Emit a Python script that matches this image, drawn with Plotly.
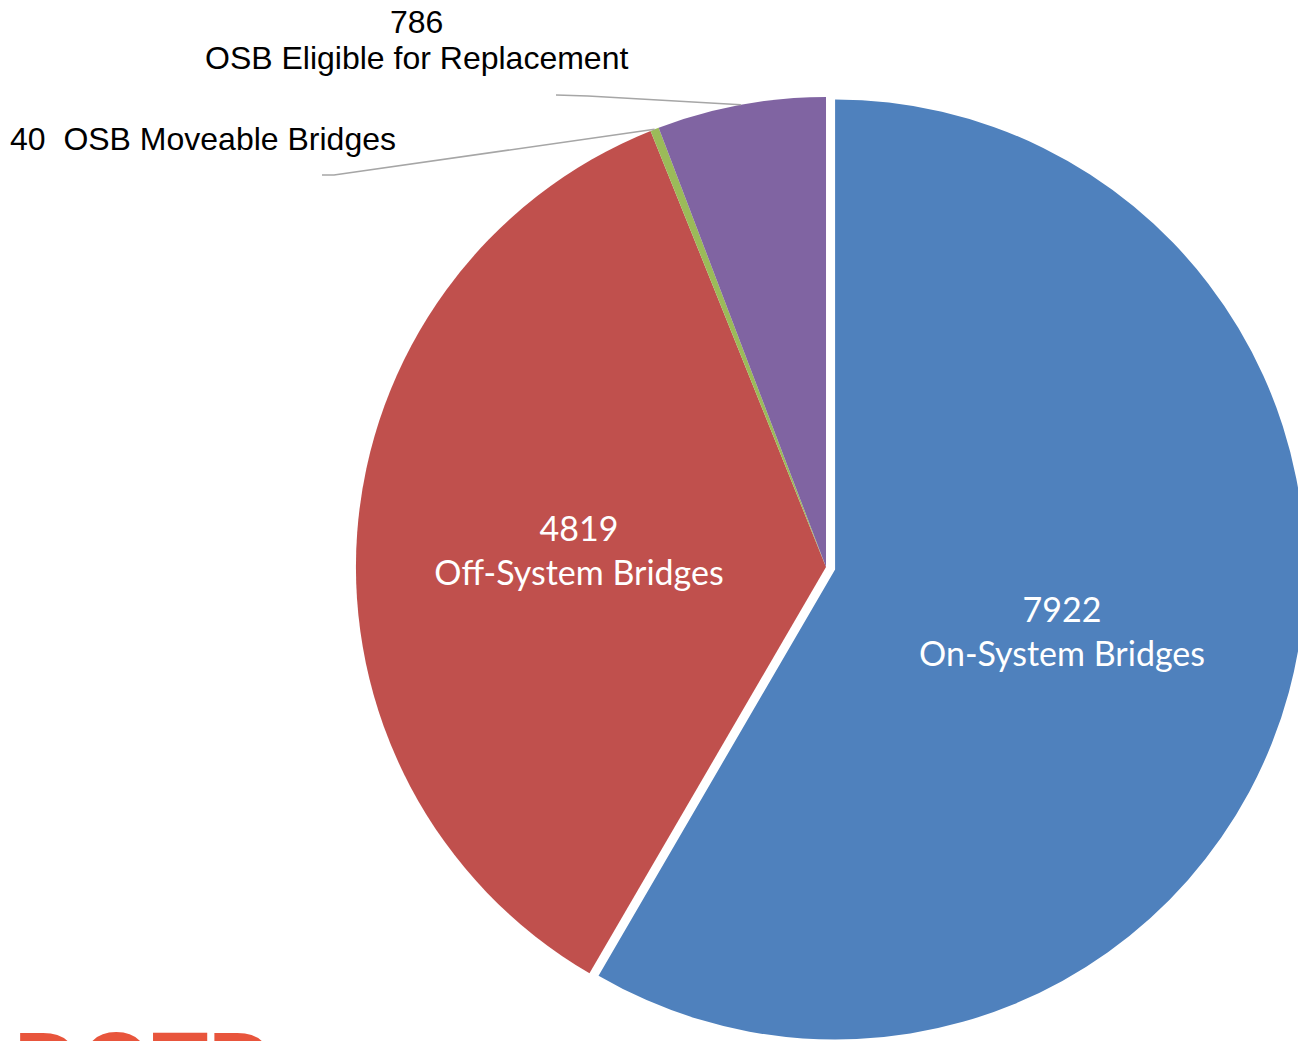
import math
import plotly.graph_objects as go

# ---- data ----
categories = ["On-System Bridges", "Off-System Bridges", "OSB Moveable Bridges", "OSB Eligible for Replacement"]
values = [7922, 4819, 40, 786]
colors = ["#4F81BD", "#C0504D", "#9BBB59", "#8064A2"]
pulls = [0.02, 0, 0, 0]

W, H = 1306, 1041
OFF = 8  # page body margin in the browser
dom_x = [0.2527, 1.0]
dom_y = [0.0024, 0.9236]

inside_text = [f"{v}<br>{c}" for v, c in zip(values, categories)]
positions = ["inside", "inside", "none", "none"]

fig = go.Figure(go.Pie(
    labels=categories, values=values, sort=False, direction="clockwise", rotation=0,
    marker=dict(colors=colors, line=dict(width=0)),
    pull=pulls, text=inside_text, textinfo="text", textposition=positions,
    insidetextorientation="horizontal",
    insidetextfont=dict(family="Lato", size=34, color="white"),
    hoverinfo="label+value",
    domain=dict(x=dom_x, y=dom_y),
))

# pie geometry (same as plotly's layout rule), in figure pixels
boxw = W * (dom_x[1] - dom_x[0])
boxh = H * (dom_y[1] - dom_y[0])
r = min(boxw, boxh) / (2 + 2 * max(pulls))
cx = W * (dom_x[0] + dom_x[1]) / 2
cy = H * (1 - dom_y[0]) - boxh / 2
total = sum(values)

def mid_point(i):
    start = sum(values[:i]) / total * 360
    mid = start + values[i] / total * 360 / 2
    a = math.radians(mid)
    return cx + r * math.sin(a), cy - r * math.cos(a)

# convert window pixel -> paper coordinate
def px(x): return (x - OFF) / W
def py(y): return 1 - (y - OFF) / H
def fx(x): return x / W          # figure pixel -> paper
def fy(y): return 1 - y / H

line_style = dict(color="#A6A6A6", width=1.6)
shapes = []
gx, gy = mid_point(2)
shapes.append(dict(type="path", xref="paper", yref="paper",
                   path=f"M {px(322)} {py(175)} L {px(334)} {py(175)} L {fx(gx)} {fy(gy)}",
                   line=line_style))
ux, uy = mid_point(3)
shapes.append(dict(type="path", xref="paper", yref="paper",
                   path=f"M {px(556)} {py(95)} L {px(588)} {py(96)} L {fx(ux)} {fy(uy)}",
                   line=line_style))

outfont = dict(family="Liberation Sans, Arial", size=32, color="black")
annotations = [
    dict(text=str(values[3]), x=px(416), y=py(22), xref="paper", yref="paper",
         showarrow=False, font=outfont, xanchor="center", yanchor="middle"),
    dict(text=categories[3], x=px(416), y=py(58), xref="paper", yref="paper",
         showarrow=False, font=outfont, xanchor="center", yanchor="middle"),
    dict(text=f"{values[2]}&nbsp; {categories[2]}", x=px(8), y=py(139), xref="paper", yref="paper",
         showarrow=False, font=outfont, xanchor="left", yanchor="middle"),
    dict(text="<b>DOTD</b>", x=px(12), y=py(1012), xref="paper", yref="paper",
         showarrow=False, font=dict(family="Liberation Sans, Arial", size=92, color="#E8553C"),
         xanchor="left", yanchor="top"),
]

fig.update_layout(
    width=W, height=H, margin=dict(l=0, r=0, t=0, b=0),
    paper_bgcolor="white", plot_bgcolor="white", showlegend=False,
    shapes=shapes, annotations=annotations,
)
fig.write_html("out.html")
